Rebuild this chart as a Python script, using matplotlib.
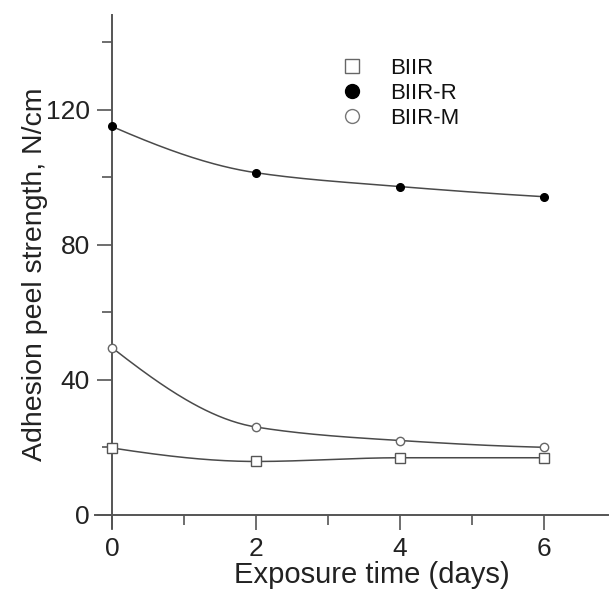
import numpy as np
import matplotlib
matplotlib.use('Agg')
import matplotlib.pyplot as plt
from matplotlib.lines import Line2D
from matplotlib.ticker import MultipleLocator

plt.rcParams['font.family'] = ['Liberation Sans', 'DejaVu Sans']

# data
days        = [0, 2, 4, 6]
biir        = [19.8, 15.8, 16.9, 16.9]
biir_r      = [115.0, 101.3, 97.2, 94.2]
biir_m      = [49.5, 26.0, 22.0, 20.0]
series_names = ['BIIR', 'BIIR-R', 'BIIR-M']


def smooth_curve(x, y, n=200):
    # monotone cubic (pchip-style) through the points, for the drawn line only
    x = np.asarray(x, float)
    y = np.asarray(y, float)
    h = np.diff(x)
    d = np.diff(y) / h
    m = np.zeros_like(y)
    for i in range(1, len(x) - 1):
        if d[i - 1] * d[i] > 0:
            w1 = 2 * h[i] + h[i - 1]
            w2 = h[i] + 2 * h[i - 1]
            m[i] = (w1 + w2) / (w1 / d[i - 1] + w2 / d[i])
    m[0] = ((2 * h[0] + h[1]) * d[0] - h[0] * d[1]) / (h[0] + h[1])
    if np.sign(m[0]) != np.sign(d[0]):
        m[0] = 0
    m[-1] = ((2 * h[-1] + h[-2]) * d[-1] - h[-1] * d[-2]) / (h[-1] + h[-2])
    if np.sign(m[-1]) != np.sign(d[-1]):
        m[-1] = 0
    xs = np.linspace(x[0], x[-1], n)
    k = np.clip(np.searchsorted(x, xs) - 1, 0, len(x) - 2)
    t = (xs - x[k]) / h[k]
    h00 = 2 * t**3 - 3 * t**2 + 1
    h10 = t**3 - 2 * t**2 + t
    h01 = -2 * t**3 + 3 * t**2
    h11 = t**3 - t**2
    ys = h00 * y[k] + h10 * h[k] * m[k] + h01 * y[k + 1] + h11 * h[k] * m[k + 1]
    return xs, ys


fig = plt.figure(figsize=(6.1, 5.9), dpi=100)
ax = fig.add_axes([95 / 610, 62 / 590, 513 / 610, 513 / 590])

line_col = '#4a4a4a'
axis_col = '#555555'
text_col = '#222222'

# curves
for vals in (biir, biir_r, biir_m):
    xs, ys = smooth_curve(days, vals)
    ax.plot(xs, ys, color=line_col, lw=1.1, zorder=2)

# markers
ax.plot(days, biir, ls='none', marker='s', ms=7.5, mfc='white', mec='#555555', mew=1.0, zorder=3)
ax.plot(days, biir_r, ls='none', marker='o', ms=5.5, mfc='black', mec='black', zorder=3)
ax.plot(days, biir_m, ls='none', marker='o', ms=6, mfc='white', mec='#666666', mew=1.0, zorder=3)

# axes
ax.set_xlim(-0.236, 6.89)
ax.set_ylim(-3.9, 148)
for s in ('top', 'right'):
    ax.spines[s].set_visible(False)
ax.spines['left'].set_position(('data', 0))
ax.spines['bottom'].set_position(('data', 0))
for s in ('left', 'bottom'):
    ax.spines[s].set_color(axis_col)
    ax.spines[s].set_linewidth(1.4)

ax.xaxis.set_major_locator(MultipleLocator(2))
ax.xaxis.set_minor_locator(MultipleLocator(1))
ax.yaxis.set_major_locator(MultipleLocator(40))
ax.yaxis.set_minor_locator(MultipleLocator(20))
ax.tick_params(which='major', direction='out', length=11, width=1.2, color=axis_col,
               labelsize=19, labelcolor=text_col, pad=5)
ax.tick_params(which='minor', direction='out', length=7, width=1.2, color=axis_col)
ax.set_xticks([0, 2, 4, 6])
ax.set_yticks([0, 40, 80, 120])

ax.set_xlabel('Exposure time (days)', fontsize=21, color=text_col)
ax.xaxis.set_label_coords(0.54, -0.064)
ax.set_ylabel('Adhesion peel strength, N/cm', fontsize=20.5, color=text_col)
ax.yaxis.set_label_coords(-0.092, 0.495)

# legend
handles = [
    Line2D([], [], ls='none', marker='s', ms=10, mfc='white', mec='#666666', mew=1.0),
    Line2D([], [], ls='none', marker='o', ms=10, mfc='black', mec='black'),
    Line2D([], [], ls='none', marker='o', ms=10, mfc='white', mec='#777777', mew=1.0),
]
ax.legend(handles, series_names, loc='upper left', bbox_to_anchor=(328 / 610, 1 - 47 / 590),
          bbox_transform=fig.transFigure, frameon=False, fontsize=16, handlelength=1.2,
          handletextpad=1.1, labelspacing=0.18, borderpad=0, labelcolor='#111111')

fig.savefig('out.png', dpi=100)
